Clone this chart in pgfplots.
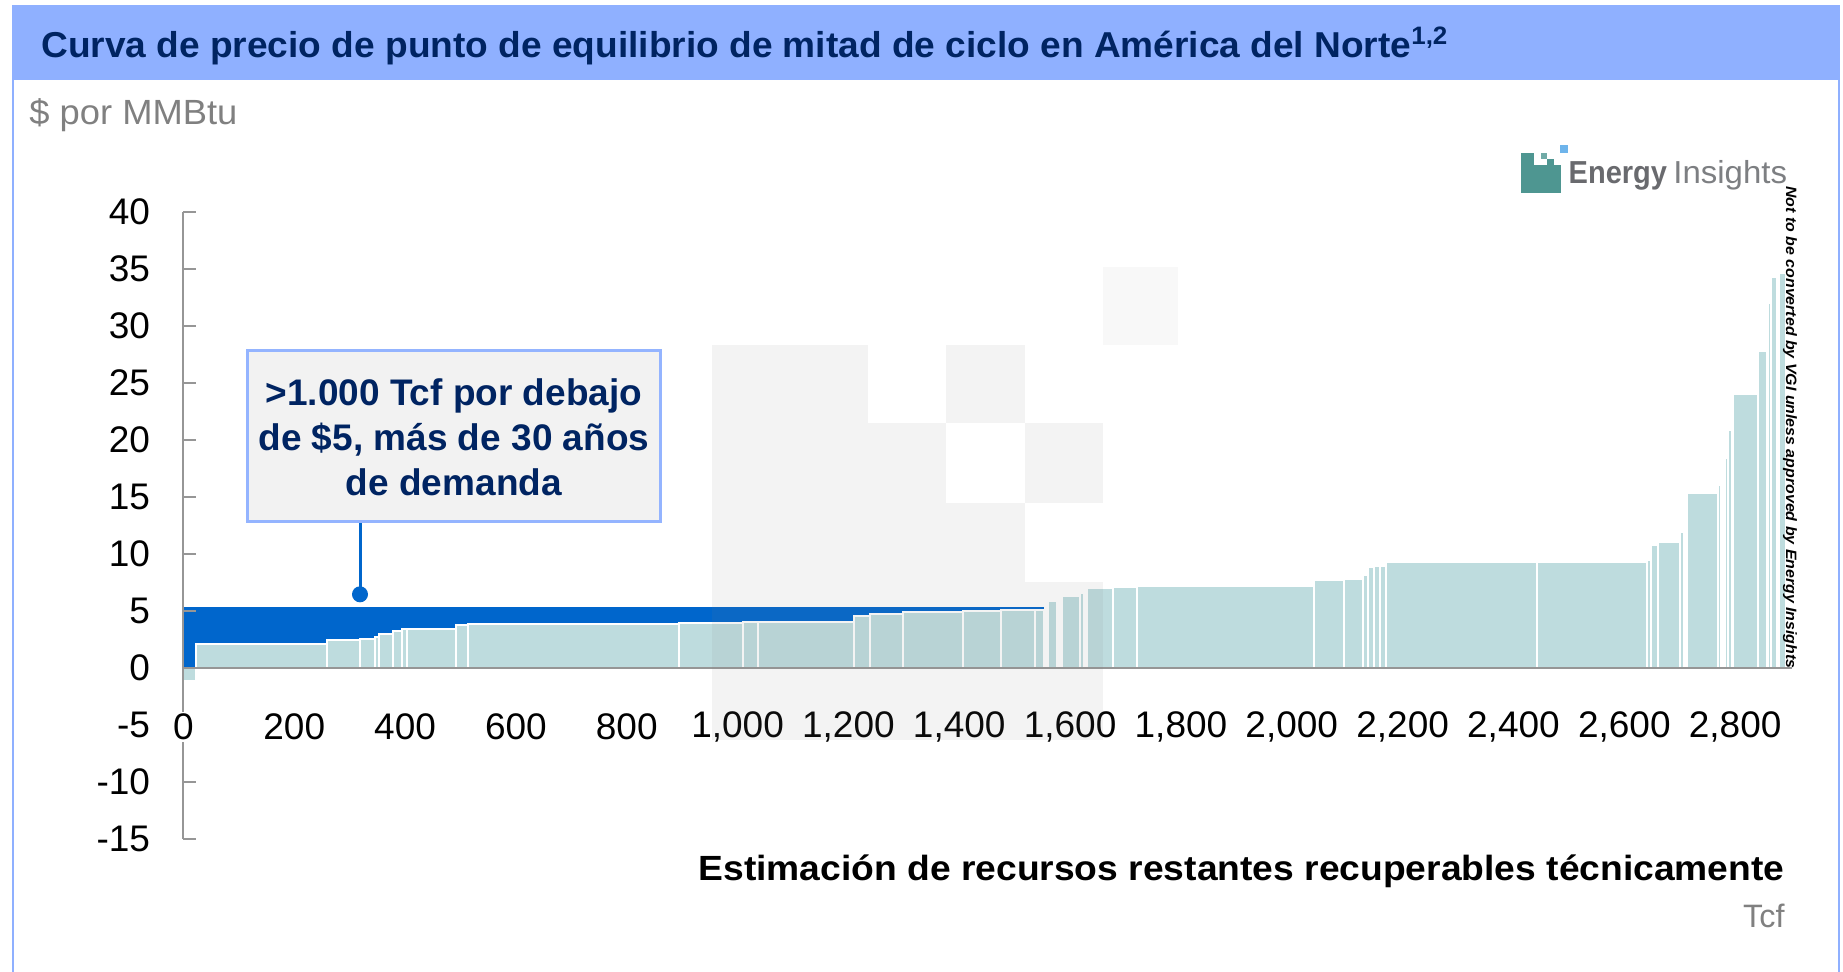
\documentclass[border=0pt]{standalone}
\usepackage{fontspec}
\setmainfont{Liberation Sans}
\usepackage{graphicx}
\usepackage{pgfplots}
\pgfplotsset{compat=1.18}
\definecolor{teal0}{RGB}{190,220,222}
\definecolor{blue0}{RGB}{0,102,204}
\definecolor{band}{RGB}{143,176,255}
\definecolor{navy}{RGB}{0,36,98}
\definecolor{axisgray}{RGB}{150,150,150}
\definecolor{labgray}{RGB}{128,128,128}
\definecolor{logoteal}{RGB}{78,150,145}
\definecolor{logogray}{RGB}{105,106,110}
\definecolor{logolight}{RGB}{125,127,130}
\definecolor{logoblue}{RGB}{110,180,235}
\definecolor{boxfill}{RGB}{242,242,242}
\definecolor{boxborder}{RGB}{148,180,255}
\begin{document}
\begin{tikzpicture}
\useasboundingbox (0,0) rectangle (921.5pt,-485.5pt);
\begin{scope}[x=0.5pt,y=-0.5pt]
\fill[white] (0,0) rectangle (1843,971);
\fill[band] (12,5) rectangle (1840,80);
\draw[band, line width=1pt] (13,80) -- (13,975);
\draw[band, line width=1pt] (1839,80) -- (1839,975);
\end{scope}

\begin{axis}[
  at={(91.7pt,-419.3pt)}, anchor=south west,
  scale only axis, width=804.4pt, height=313.5pt,
  xmin=0, xmax=2903, ymin=-15, ymax=40,
  axis x line*=middle, axis y line*=left,
  hide obscured x ticks=false,
  axis line style={-, draw=axisgray, line width=1pt},
  axis on top, clip=false,
  xtick={0,200,...,2800},
  xticklabels={0,200,400,600,800,{1,000},{1,200},{1,400},{1,600},{1,800},{2,000},{2,200},{2,400},{2,600},{2,800}},
  ytick={-15,-10,...,40},
  yticklabels={-15,-10,-5,0,5,10,15,20,25,30,35,40},
  xtick style={draw=none},
  ytick style={draw=axisgray, line width=1pt},
  major tick length=6.5pt,
  tick align=inside,
  ticklabel style={font=\fontsize{18.5}{20}\selectfont, text=black},
  xticklabel style={anchor=center, yshift=-29.5pt, fill=white, inner sep=1pt},
  yticklabel style={anchor=east, inner sep=0pt, xshift=-16.5pt},
]
\addplot[ybar interval, fill=blue0, draw=none] table[row sep=\\]{x y\\ 0 5.3\\ 1553 0\\};
\addplot[ybar interval, fill=teal0, draw=white, line width=1pt] table[row sep=\\]{
x y\\
0 -1.2\\
23.5 2.07\\
259 2.42\\
318 2.54\\
345 2.68\\
353 2.92\\
378 3.18\\
395 3.36\\
403.5 3.41\\
492.5 3.76\\
514 3.86\\
894.5 3.9\\
1010 4.0\\
1037 4.04\\
1210.5 4.53\\
1239.5 4.71\\
1299 4.85\\
1406 4.97\\
1475 5.02\\
1537 5.08\\
1552 0\\
1560 5.82\\
1577 0\\
1586 6.26\\
1617.5 6.55\\
1625 0\\
1630.5 6.97\\
1678 7.09\\
1721.5 7.19\\
2040.5 7.72\\
2094.5 7.75\\
2128 8.13\\
2137 8.8\\
2149 8.92\\
2159 8.95\\
2170.5 9.24\\
2442.5 9.3\\
2641.5 9.4\\
2648.5 10.76\\
2660 11.05\\
2700 11.93\\
2708 0\\
2712.5 15.35\\
2769 16.0\\
2775 0\\
2781.5 18.4\\
2787.5 20.8\\
2794.5 0\\
2796.5 24.0\\
2841 27.8\\
2857 0\\
2858.5 32.0\\
2865.5 34.3\\
2876 0\\
2879.5 34.6\\
2892.5 0\\
};
\end{axis}

\begin{scope}[x=0.5pt,y=-0.5pt]
% watermark overlay
\fill[black!50, opacity=0.09] (712,345) rectangle (868,740);
\fill[black!50, opacity=0.09] (868,423) rectangle (946,740);
\fill[black!50, opacity=0.09] (946,345) rectangle (1025,423);
\fill[black!50, opacity=0.09] (946,503) rectangle (1025,740);
\fill[black!50, opacity=0.09] (1025,423) rectangle (1102.5,503);
\fill[black!50, opacity=0.09] (1025,582) rectangle (1102.5,740);
\fill[black!50, opacity=0.05] (1102.5,267) rectangle (1178,345);
% title
\node[anchor=base west, inner sep=0, text=navy] at (41,57)
  {\resizebox{703.5pt}{\height}{\fontsize{18}{20}\selectfont\bfseries Curva de precio de punto de equilibrio de mitad de ciclo en América del Norte\textsuperscript{1,2}}};
\node[anchor=base west, inner sep=0, text=labgray] at (29,124)
  {\resizebox{104pt}{\height}{\fontsize{17.5}{19}\selectfont \$ por MMBtu}};
% logo
\fill[logoteal] (1520.7,165) rectangle (1561,193.3);
\fill[logoteal] (1520.7,152.7) rectangle (1534.3,165.2);
\fill[logoteal!80] (1540.7,152.7) rectangle (1547,158.8);
\fill[logoteal] (1547,158.5) rectangle (1554,165.2);
\fill[logoblue] (1560,145) rectangle (1567.7,152.7);
\node[anchor=base west, inner sep=0, text=logogray] at (1568.3,183.3)
  {\resizebox{49.2pt}{\height}{\fontsize{15.9}{18}\selectfont\bfseries Energy}};
\node[anchor=base west, inner sep=0, text=logolight] at (1673,183.3)
  {\resizebox{56.8pt}{\height}{\fontsize{15.9}{18}\selectfont Insights}};
% rotated note
\node[rotate=-90, anchor=west, inner sep=0, text=black] at (1790,186)
  {\resizebox{241pt}{\height}{\fontsize{7.5}{9}\selectfont\bfseries\itshape Not to be converted by VGI unless approved by Energy Insights}};
% callout
\draw[blue0, line width=1.5pt] (360,523) -- (360,594.3);
\fill[blue0] (360,594.3) circle (8);
\draw[boxborder, fill=boxfill, line width=1.6pt] (247.3,350.6) rectangle (660.5,521.7);
\node[anchor=base, inner sep=0, text=navy, font=\fontsize{18.5}{22}\selectfont\bfseries] at (453.9,405) {>1.000 Tcf por debajo};
\node[anchor=base, inner sep=0, text=navy, font=\fontsize{18.5}{22}\selectfont\bfseries] at (453.9,450) {de \$5, más de 30 años};
\node[anchor=base, inner sep=0, text=navy, font=\fontsize{18.5}{22}\selectfont\bfseries] at (453.9,495) {de demanda};
% axis title
\node[anchor=base east, inner sep=0, text=black] at (1785,880)
  {\resizebox{543pt}{\height}{\fontsize{17.5}{20}\selectfont\bfseries Estimación de recursos restantes recuperables técnicamente}};
\node[anchor=base east, inner sep=0, text=labgray] at (1785,927)
  {\fontsize{16.2}{19}\selectfont Tcf};
\end{scope}
\end{tikzpicture}
\end{document}
